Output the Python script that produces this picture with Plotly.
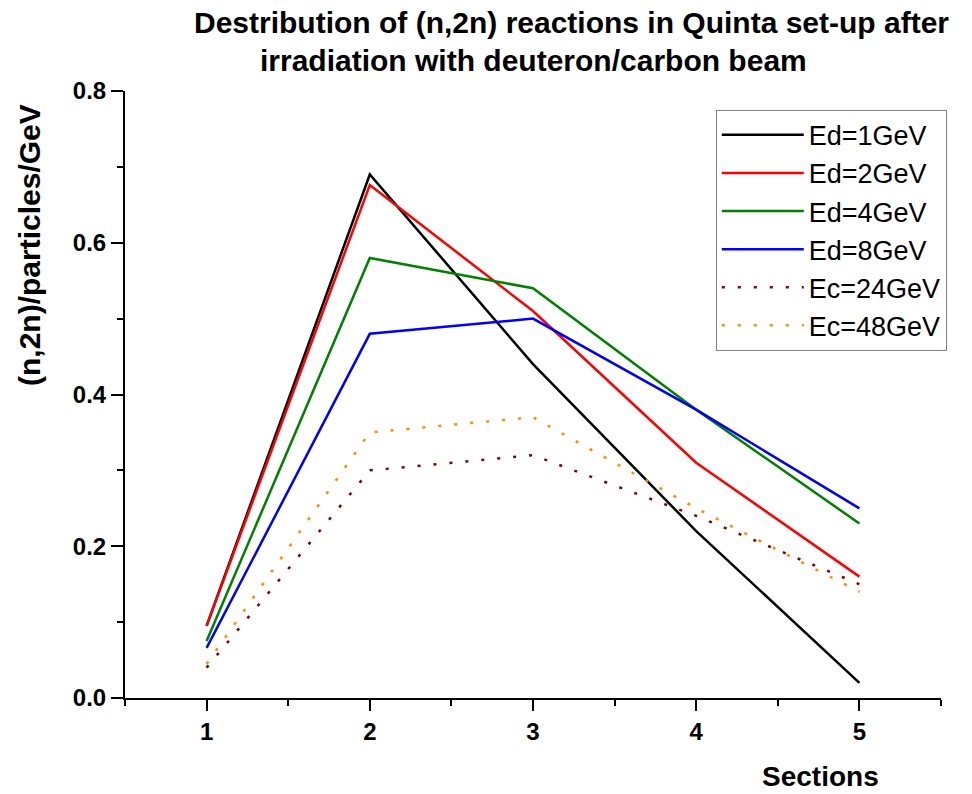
import plotly.graph_objects as go

sections = [1, 2, 3, 4, 5]
ed1 = [0.095, 0.69, 0.44, 0.22, 0.02]
ed2 = [0.095, 0.676, 0.51, 0.31, 0.16]
ed4 = [0.075, 0.58, 0.54, 0.38, 0.23]
ed8 = [0.066, 0.48, 0.50, 0.38, 0.25]
ec24 = [0.04, 0.30, 0.32, 0.24, 0.15]
ec48 = [0.045, 0.35, 0.37, 0.25, 0.14]

names = ["Ed=1GeV", "Ed=2GeV", "Ed=4GeV", "Ed=8GeV", "Ec=24GeV", "Ec=48GeV"]
series = [ed1, ed2, ed4, ed8, ec24, ec48]
colors = ["#000000", "#FF0000", "#008000", "#0000FF", "#800000", "#FF8C00"]
dashes = ["solid", "solid", "solid", "solid", "3px,13px", "3px,13px"]

fig = go.Figure()
for n, s, c, d in zip(names, series, colors, dashes):
    fig.add_trace(go.Scatter(x=sections, y=s, name=n, mode="lines",
                             line=dict(color=c, width=2.5, dash=d)))

font_main = "Liberation Sans, Arial, sans-serif"

fig.update_layout(
    width=972, height=794,
    margin=dict(l=125, r=31, t=91, b=96),
    plot_bgcolor="white", paper_bgcolor="white",
    showlegend=True,
    legend=dict(x=0.724, y=0.969, xanchor="left", yanchor="top",
                bordercolor="#808080", borderwidth=1,
                font=dict(family=font_main, size=27, color="black"),
                itemwidth=82, tracegroupgap=0, bgcolor="white"),
    xaxis=dict(range=[0.5, 5.5], tickvals=sections, ticktext=[str(v) for v in sections],
               showline=True, linecolor="black", linewidth=2, mirror=False,
               ticks="outside", ticklen=11, tickwidth=2, tickcolor="black",
               showgrid=False, zeroline=False,
               minor=dict(tickmode="array", tickvals=[0.5, 1.5, 2.5, 3.5, 4.5, 5.5],
                          ticks="outside", ticklen=6, tickwidth=2, tickcolor="black", showgrid=False),
               tickfont=dict(family=font_main, size=24, color="black", weight="bold")),
    yaxis=dict(range=[0, 0.8], dtick=0.2, tick0=0, tickformat=".1f",
               showline=True, linecolor="black", linewidth=2, mirror=False,
               ticks="outside", ticklen=12, tickwidth=2, tickcolor="black",
               showgrid=False, zeroline=False,
               minor=dict(dtick=0.1, tick0=0, ticks="outside", ticklen=6, tickwidth=2,
                          tickcolor="black", showgrid=False),
               tickfont=dict(family=font_main, size=24, color="black", weight="bold")),
)

fig.add_annotation(text="Destribution of (n,2n) reactions in Quinta set-up after",
                   xref="paper", yref="paper", x=(571 - 125) / 816, y=1 + (91 - 23) / 607,
                   xanchor="center", yanchor="middle", showarrow=False,
                   font=dict(family=font_main, size=30, color="black", weight="bold"))
fig.add_annotation(text="irradiation with deuteron/carbon beam",
                   xref="paper", yref="paper", x=(533 - 125) / 816, y=1 + (91 - 61) / 607,
                   xanchor="center", yanchor="middle", showarrow=False,
                   font=dict(family=font_main, size=30, color="black", weight="bold"))
fig.add_annotation(text="(n,2n)/particles/GeV", textangle=-90,
                   xref="paper", yref="paper", x=(29 - 125) / 816, y=(698 - 245) / 607,
                   xanchor="center", yanchor="middle", showarrow=False,
                   font=dict(family=font_main, size=30, color="black", weight="bold"))
fig.add_annotation(text="Sections",
                   xref="paper", yref="paper", x=(820 - 125) / 816, y=-(776 - 698) / 607,
                   xanchor="center", yanchor="middle", showarrow=False,
                   font=dict(family=font_main, size=28, color="black", weight="bold"))

fig.write_html("out.html")
